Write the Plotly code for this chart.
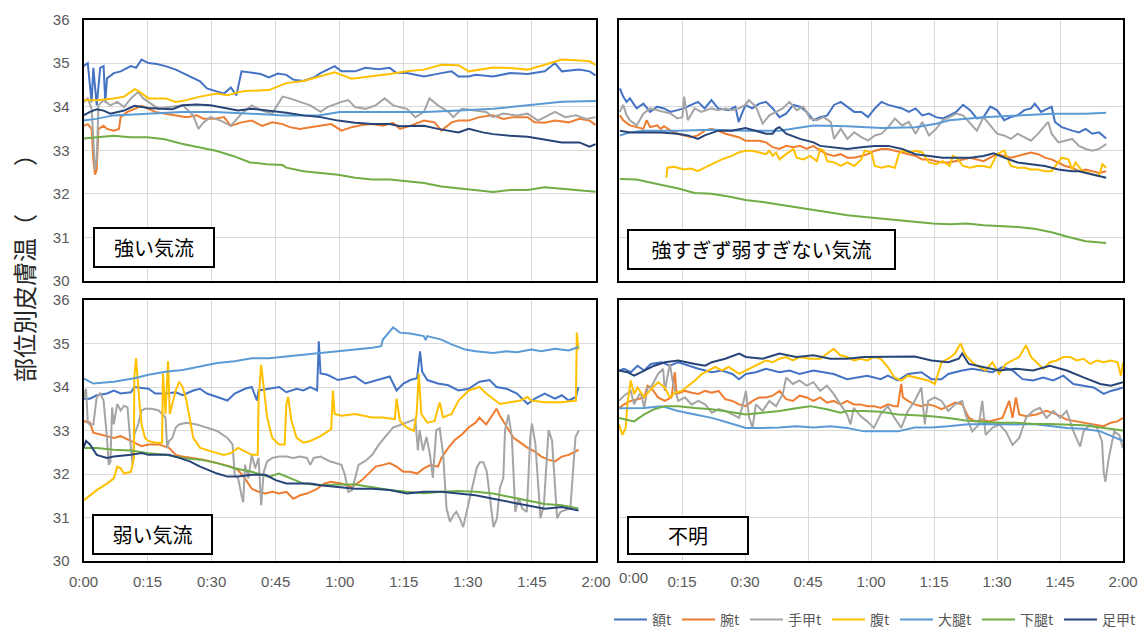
import plotly.graph_objects as go

# ---------------- data ----------------
SERIES_NAMES = ["額t", "腕t", "手甲t", "腹t", "大腿t", "下腿t", "足甲t"]
SERIES_COLORS = ["#4472C4", "#ED7D31", "#A5A5A5", "#FFC000", "#5B9BD5", "#70AD47", "#264478"]
X_TICK_MIN = [0, 15, 30, 45, 60, 75, 90, 105, 120]
X_TICK_TEXT = ["0:00", "0:15", "0:30", "0:45", "1:00", "1:15", "1:30", "1:45", "2:00"]
Y_TICKS = [30, 31, 32, 33, 34, 35, 36]
PANEL_LABELS = ["強い気流", "強すぎず弱すぎない気流", "弱い気流", "不明"]
Y_TITLE = "部位別皮膚温（　　）"

# (minutes, °C) pairs
# ---- 強い気流 ----
TL_FOREHEAD = [(0, 34.93), (1.0, 35.00), (1.9, 34.10), (2.3, 34.89), (3.1, 34.03), (3.9, 34.89), (4.7, 34.93), (5.1, 34.10), (5.5, 34.65), (7.1, 34.77), (8.7, 34.81), (10.3, 34.89), (11.1, 34.93), (12.3, 34.89), (13.6, 35.08), (14.4, 35.04), (15.2, 35.00), (17.2, 34.98), (19.2, 34.93), (21.6, 34.85), (23.2, 34.77), (25.7, 34.65), (27.3, 34.58), (28.9, 34.42), (31.3, 34.34), (32.9, 34.30), (34.5, 34.44), (35.8, 34.26), (37.0, 34.81), (39.4, 34.77), (41.5, 34.75), (43.4, 34.67), (45.5, 34.76), (47.5, 34.73), (49.1, 34.62), (51.5, 34.59), (53.9, 34.67), (55.5, 34.77), (58.8, 34.93), (60.4, 34.81), (63.6, 34.81), (66.0, 34.89), (69.0, 34.86), (71.7, 34.89), (73.3, 34.77), (75.7, 34.77), (77.5, 34.74), (79.7, 34.69), (83.8, 34.77), (86.2, 34.81), (87.8, 34.69), (90.2, 34.69), (91.8, 34.73), (95.9, 34.69), (99.9, 34.77), (104.0, 34.75), (108.0, 34.81), (110.4, 35.00), (112.0, 34.81), (116.1, 34.85), (118.5, 34.81), (119.9, 34.72)]
TL_ARM = [(0, 33.56), (1.0, 33.60), (1.9, 33.49), (2.3, 32.79), (2.7, 32.44), (3.1, 32.55), (3.5, 33.49), (4.7, 33.56), (5.5, 33.49), (7.1, 33.45), (8.3, 33.49), (8.7, 33.76), (10.3, 33.88), (11.9, 33.95), (13.6, 34.02), (15.2, 33.95), (16.8, 33.88), (19.2, 33.84), (21.6, 33.80), (24.1, 33.76), (26.5, 33.80), (28.1, 33.72), (30.5, 33.72), (32.9, 33.76), (34.5, 33.56), (37.0, 33.64), (39.4, 33.68), (41.8, 33.56), (44.2, 33.64), (46.6, 33.60), (48.3, 33.53), (50.7, 33.49), (53.1, 33.53), (55.5, 33.56), (58.0, 33.60), (60.4, 33.45), (62.8, 33.53), (65.2, 33.58), (67.6, 33.60), (70.1, 33.56), (72.5, 33.63), (74.1, 33.49), (76.5, 33.56), (79.7, 33.68), (82.2, 33.64), (83.8, 33.45), (86.2, 33.64), (87.8, 33.68), (90.2, 33.68), (92.7, 33.76), (95.9, 33.80), (98.3, 33.72), (100.7, 33.76), (104.0, 33.76), (105.6, 33.64), (108.0, 33.63), (110.4, 33.68), (113.6, 33.64), (116.1, 33.72), (118.5, 33.68), (119.9, 33.58)]
TL_HAND = [(0, 34.11), (1.0, 34.19), (1.9, 33.95), (2.3, 33.10), (2.7, 32.55), (3.1, 32.79), (3.5, 34.03), (4.7, 34.15), (6.3, 34.03), (7.9, 34.11), (9.5, 33.99), (11.1, 34.19), (12.8, 34.34), (14.0, 34.19), (15.2, 34.11), (17.6, 33.95), (20.0, 33.99), (23.2, 34.03), (25.7, 33.80), (26.9, 33.49), (28.1, 33.64), (29.7, 33.76), (32.1, 33.68), (34.5, 33.56), (37.0, 33.84), (39.4, 34.03), (41.8, 33.91), (44.2, 33.84), (46.6, 34.23), (48.3, 34.19), (50.7, 34.11), (53.1, 34.03), (55.5, 33.88), (57.1, 33.99), (60.4, 34.11), (62.0, 34.15), (63.6, 33.99), (66.0, 33.95), (68.4, 34.03), (70.5, 34.19), (72.5, 34.03), (75.7, 33.95), (77.7, 33.76), (79.7, 33.88), (81.0, 34.19), (83.0, 34.03), (85.4, 33.88), (86.6, 33.76), (88.6, 33.95), (91.8, 33.91), (94.3, 33.88), (95.9, 33.76), (98.3, 33.84), (101.5, 33.80), (104.0, 33.84), (106.4, 33.68), (108.8, 33.80), (110.4, 33.88), (112.8, 33.76), (115.3, 33.80), (117.7, 33.72), (119.9, 33.76)]
TL_BELLY = [(0, 34.15), (3.1, 34.15), (7.1, 34.19), (9.5, 34.23), (11.1, 34.34), (12.0, 34.40), (13.2, 34.34), (15.2, 34.19), (19.2, 34.19), (21.6, 34.11), (24.1, 34.15), (27.3, 34.23), (31.3, 34.30), (33.7, 34.26), (36.2, 34.33), (37.8, 34.36), (43.4, 34.38), (47.5, 34.54), (51.5, 34.59), (55.5, 34.69), (58.8, 34.79), (62.8, 34.64), (67.6, 34.69), (71.7, 34.75), (75.7, 34.81), (79.7, 34.85), (83.8, 34.96), (87.8, 34.95), (90.2, 34.81), (92.7, 34.85), (95.9, 34.90), (99.9, 34.89), (104.0, 34.85), (108.0, 34.96), (112.0, 35.08), (116.1, 35.06), (118.5, 35.04), (119.9, 34.96)]
TL_THIGH = [(0, 33.68), (3, 33.72), (7, 33.80), (15, 33.84), (23, 33.88), (31, 33.88), (39, 33.84), (47, 33.80), (55, 33.80), (60, 33.88), (72, 33.88), (80, 33.88), (88, 33.91), (96, 33.95), (104, 34.03), (112, 34.11), (120, 34.13)]
TL_SHIN = [(0, 33.27), (4, 33.30), (7, 33.33), (11, 33.30), (15, 33.30), (19, 33.25), (23, 33.15), (27, 33.07), (31, 32.99), (35, 32.87), (39, 32.72), (43, 32.68), (46.6, 32.66), (47.5, 32.60), (51.5, 32.52), (55.5, 32.48), (59.6, 32.44), (63.6, 32.37), (67.6, 32.33), (71.7, 32.33), (75.7, 32.29), (79.7, 32.25), (83.8, 32.17), (87.8, 32.13), (91.8, 32.09), (95.9, 32.04), (99.9, 32.09), (104.0, 32.09), (108.0, 32.15), (112.0, 32.12), (116.1, 32.09), (119.9, 32.05)]
TL_FOOT = [(0, 33.80), (1.5, 33.88), (3.1, 33.94), (4.7, 33.91), (6.3, 33.84), (7.9, 33.88), (9.5, 33.91), (11.9, 34.02), (15.2, 33.97), (18.4, 33.95), (20.8, 33.94), (23.2, 34.03), (26.5, 34.05), (29.7, 34.03), (32.9, 33.97), (36.2, 33.91), (39.4, 33.95), (43.4, 33.91), (47.5, 33.86), (51.5, 33.80), (55.5, 33.76), (59.6, 33.68), (63.6, 33.63), (67.6, 33.60), (71.7, 33.60), (74.1, 33.55), (77.3, 33.56), (79.7, 33.56), (83.0, 33.49), (85.4, 33.45), (87.8, 33.41), (90.2, 33.49), (93.5, 33.41), (95.9, 33.37), (99.9, 33.33), (104.0, 33.31), (108.0, 33.25), (112.0, 33.18), (116.1, 33.18), (118.5, 33.08), (119.9, 33.14)]

# ---- 強すぎず弱すぎない気流 ----
TR_FOREHEAD = [(0.2, 34.42), (1.0, 34.23), (1.8, 34.11), (2.6, 34.19), (4.2, 33.96), (5.8, 34.07), (7.4, 33.88), (9.1, 34.00), (10.7, 33.96), (12.3, 33.88), (13.9, 33.92), (15.5, 33.96), (17.2, 34.04), (18.8, 34.11), (20.4, 33.96), (22.0, 34.15), (23.6, 33.96), (26.1, 33.92), (27.7, 34.00), (28.5, 33.65), (30.1, 34.04), (31.7, 33.96), (33.4, 34.07), (35.0, 34.11), (36.6, 33.96), (38.2, 33.76), (39.8, 33.84), (41.5, 34.04), (43.1, 34.00), (44.7, 33.88), (46.3, 33.69), (47.9, 33.76), (49.6, 33.80), (51.2, 34.04), (52.8, 34.11), (54.4, 34.00), (56.0, 33.88), (57.7, 33.88), (59.3, 33.76), (60.9, 33.96), (62.5, 34.11), (64.1, 34.04), (65.7, 34.00), (67.4, 33.96), (69.0, 33.88), (70.6, 33.96), (72.2, 33.80), (73.8, 33.84), (75.5, 33.76), (77.1, 33.73), (78.7, 33.80), (80.3, 33.88), (81.9, 34.04), (83.6, 33.92), (85.2, 33.73), (86.8, 33.76), (88.4, 34.00), (90.0, 33.92), (91.7, 33.69), (93.3, 33.76), (94.9, 33.80), (96.5, 33.92), (98.1, 33.96), (99.0, 34.07), (100.5, 33.88), (102.2, 33.96), (103.0, 34.00), (103.8, 33.65), (105.4, 33.53), (107.9, 33.45), (109.5, 33.41), (111.1, 33.49), (112.7, 33.38), (114.3, 33.41), (116.0, 33.27)]
TR_ARM = [(0.2, 33.80), (1.0, 33.69), (2.6, 33.57), (4.2, 33.53), (5.8, 33.49), (6.6, 33.69), (7.4, 33.53), (9.1, 33.57), (9.9, 33.49), (10.7, 33.55), (12.3, 33.45), (13.9, 33.38), (15.5, 33.34), (17.2, 33.30), (18.8, 33.34), (20.4, 33.45), (22.0, 33.49), (23.6, 33.45), (25.3, 33.38), (26.9, 33.34), (28.5, 33.30), (30.1, 33.22), (31.7, 33.22), (33.4, 33.22), (35.0, 33.18), (36.6, 33.07), (38.2, 33.03), (39.8, 33.10), (41.5, 33.07), (43.1, 33.10), (44.7, 33.03), (46.3, 33.10), (47.9, 32.99), (49.6, 32.91), (51.2, 32.87), (52.8, 32.91), (54.4, 32.83), (56.0, 32.83), (57.7, 32.87), (59.3, 32.91), (60.9, 32.99), (62.5, 33.03), (64.1, 33.03), (65.7, 32.99), (67.4, 32.95), (69.0, 32.91), (70.6, 32.87), (72.2, 32.79), (73.8, 32.79), (75.5, 32.75), (77.1, 32.72), (78.7, 32.72), (80.3, 32.75), (81.9, 32.79), (83.6, 32.83), (85.2, 32.79), (86.8, 32.75), (88.4, 32.83), (90.0, 32.91), (91.7, 32.87), (93.3, 32.83), (94.9, 32.87), (96.5, 32.91), (98.1, 32.95), (99.8, 32.91), (101.4, 32.83), (103.0, 32.79), (104.6, 32.72), (106.2, 32.64), (107.9, 32.60), (109.5, 32.52), (111.1, 32.56), (112.7, 32.52), (114.3, 32.48), (116.0, 32.52)]
TR_HAND = [(0.2, 33.88), (1.0, 34.04), (1.8, 33.80), (2.6, 33.69), (4.2, 33.57), (5.8, 33.84), (7.4, 33.96), (9.1, 33.92), (10.7, 33.88), (12.3, 33.84), (13.9, 33.73), (15.1, 33.76), (15.5, 34.23), (16.4, 33.69), (18.0, 33.96), (19.6, 33.88), (22.0, 33.96), (23.6, 33.92), (25.3, 33.96), (26.9, 33.92), (28.5, 33.96), (30.1, 34.04), (30.9, 34.15), (32.6, 34.00), (34.2, 33.61), (35.8, 33.80), (37.4, 33.88), (39.0, 33.96), (40.6, 34.11), (42.3, 33.92), (43.9, 34.00), (45.5, 33.73), (47.1, 33.69), (48.7, 33.76), (50.4, 33.65), (51.2, 33.26), (52.8, 33.49), (54.4, 33.26), (56.0, 33.41), (57.7, 33.30), (59.3, 33.22), (60.9, 33.34), (62.5, 33.38), (64.1, 33.53), (65.7, 33.73), (67.4, 33.57), (69.0, 33.65), (70.6, 33.38), (72.2, 33.65), (73.8, 33.34), (75.5, 33.49), (77.1, 33.69), (78.7, 33.76), (80.3, 33.84), (81.9, 33.80), (83.6, 33.61), (85.2, 33.45), (86.8, 33.76), (88.4, 33.57), (90.0, 33.38), (91.7, 33.34), (93.3, 33.26), (94.9, 33.38), (96.5, 33.30), (98.1, 33.22), (99.8, 33.38), (101.4, 33.57), (102.2, 33.65), (103.0, 33.38), (104.6, 33.18), (106.2, 33.22), (107.9, 33.26), (109.5, 33.10), (111.1, 33.03), (112.7, 32.99), (114.3, 33.03), (116.0, 33.14)]
TR_BELLY = [(11.3, 32.37), (11.5, 32.60), (13.1, 32.62), (15.5, 32.56), (17.2, 32.58), (18.8, 32.52), (20.4, 32.60), (22.0, 32.68), (24.5, 32.79), (26.9, 32.87), (28.5, 32.95), (30.1, 32.99), (31.7, 32.99), (33.4, 32.95), (35.0, 32.91), (35.8, 32.99), (36.6, 32.87), (37.4, 32.95), (38.2, 32.79), (39.8, 32.91), (41.5, 33.03), (42.3, 32.83), (43.9, 32.79), (45.5, 32.87), (47.1, 32.75), (47.9, 33.03), (48.7, 32.99), (49.6, 32.75), (51.2, 32.72), (52.8, 32.64), (54.4, 32.72), (56.0, 32.64), (57.7, 32.79), (58.5, 32.99), (60.1, 32.95), (60.9, 32.64), (62.5, 32.60), (64.1, 32.64), (65.7, 32.60), (66.6, 32.91), (67.4, 32.99), (69.0, 32.95), (70.6, 32.99), (72.2, 32.95), (73.8, 32.72), (75.5, 32.68), (77.1, 32.75), (78.7, 32.64), (79.5, 32.87), (80.3, 32.83), (81.9, 32.64), (83.6, 32.60), (85.2, 32.64), (86.8, 32.64), (88.4, 32.60), (90.0, 32.91), (91.7, 32.99), (93.3, 32.64), (94.9, 32.60), (96.5, 32.60), (98.1, 32.56), (99.8, 32.56), (101.4, 32.52), (103.0, 32.52), (104.6, 32.72), (105.4, 32.83), (107.0, 32.79), (107.9, 32.56), (108.7, 32.72), (110.3, 32.52), (111.9, 32.48), (112.7, 32.44), (114.3, 32.41), (115.1, 32.68), (116.0, 32.60)]
TR_THIGH = [(0.2, 33.34), (2.6, 33.41), (5.8, 33.45), (13.9, 33.45), (22.0, 33.47), (30.1, 33.45), (38.2, 33.45), (46.3, 33.57), (54.4, 33.55), (62.5, 33.51), (70.6, 33.53), (75.5, 33.61), (78.7, 33.69), (86.8, 33.76), (94.9, 33.80), (103.0, 33.84), (111.1, 33.84), (116.0, 33.86)]
TR_SHIN = [(0.2, 32.34), (4.2, 32.33), (9.9, 32.21), (13.9, 32.13), (18.0, 32.02), (22.0, 32.00), (26.1, 31.94), (30.1, 31.86), (34.2, 31.81), (38.2, 31.75), (42.3, 31.69), (46.3, 31.63), (50.4, 31.57), (54.4, 31.51), (58.5, 31.47), (62.5, 31.43), (66.6, 31.40), (70.6, 31.36), (74.7, 31.32), (78.7, 31.30), (82.8, 31.32), (86.8, 31.28), (90.9, 31.26), (94.9, 31.24), (98.9, 31.20), (103.0, 31.12), (107.0, 31.01), (111.1, 30.91), (116.0, 30.87)]
TR_FOOT = [(0.2, 33.45), (2.6, 33.41), (5.8, 33.41), (9.9, 33.41), (13.9, 33.38), (16.4, 33.34), (18.8, 33.26), (20.4, 33.34), (23.6, 33.45), (26.9, 33.45), (30.1, 33.51), (32.6, 33.45), (35.0, 33.38), (36.6, 33.38), (37.4, 33.49), (38.2, 33.53), (39.8, 33.38), (43.1, 33.26), (46.3, 33.18), (47.9, 33.10), (51.2, 33.07), (54.4, 33.03), (57.7, 33.07), (60.9, 33.10), (64.1, 33.10), (67.4, 33.03), (70.6, 32.91), (73.8, 32.87), (77.1, 32.83), (80.3, 32.83), (83.6, 32.83), (86.8, 32.87), (89.2, 32.93), (91.7, 32.83), (94.9, 32.72), (98.1, 32.68), (101.4, 32.64), (104.6, 32.56), (107.9, 32.52), (109.5, 32.52), (112.7, 32.44), (116.0, 32.37)]

# ---- 弱い気流 ----
BL_FOREHEAD = [(0, 33.73), (1.5, 33.73), (3.1, 33.81), (5.5, 33.85), (7.1, 33.92), (8.7, 33.85), (11.1, 33.88), (11.9, 34.00), (15.2, 33.96), (16.8, 33.85), (19.2, 33.85), (21.6, 33.88), (23.2, 33.81), (25.7, 33.92), (27.3, 33.96), (28.9, 33.85), (31.3, 33.77), (33.7, 33.69), (35.4, 33.85), (37.8, 33.96), (39.4, 34.00), (40.6, 33.69), (41.0, 33.92), (43.4, 33.96), (45.8, 34.00), (47.5, 33.88), (49.9, 33.96), (51.5, 33.92), (53.1, 34.00), (54.7, 33.92), (55.1, 35.05), (55.5, 34.31), (57.1, 34.28), (59.6, 34.16), (62.0, 34.20), (63.6, 34.24), (66.0, 34.08), (67.6, 34.12), (69.2, 34.16), (71.7, 34.24), (73.3, 33.92), (74.9, 34.08), (76.5, 34.16), (78.1, 34.20), (78.8, 34.82), (79.3, 34.35), (80.5, 34.16), (83.0, 34.08), (85.4, 34.04), (87.8, 33.92), (90.2, 33.96), (92.7, 34.12), (95.1, 34.16), (96.7, 34.00), (99.1, 33.96), (101.5, 33.85), (104.0, 33.61), (105.6, 33.73), (108.0, 33.85), (110.4, 33.73), (112.0, 33.81), (113.6, 33.69), (115.3, 33.77), (115.9, 34.00)]
BL_ARM = [(0, 33.22), (1.5, 33.18), (2.3, 32.95), (3.9, 32.91), (5.5, 32.87), (7.1, 32.83), (8.7, 32.87), (10.3, 32.79), (11.9, 32.72), (13.6, 32.64), (15.2, 32.68), (17.6, 32.68), (20.0, 32.60), (21.6, 32.44), (23.2, 32.40), (25.7, 32.37), (28.1, 32.33), (31.3, 32.25), (32.9, 32.21), (34.5, 32.17), (36.2, 32.09), (37.8, 31.90), (39.4, 31.66), (41.0, 31.59), (42.6, 31.55), (44.2, 31.59), (45.8, 31.55), (47.5, 31.59), (49.1, 31.43), (50.7, 31.51), (52.3, 31.55), (54.7, 31.66), (56.3, 31.78), (57.9, 31.82), (60.4, 31.78), (62.8, 31.70), (65.2, 31.86), (66.8, 32.01), (68.4, 32.17), (70.1, 32.21), (71.7, 32.25), (73.3, 32.17), (74.9, 32.05), (76.5, 32.05), (78.1, 32.01), (79.7, 32.13), (81.3, 32.21), (83.0, 32.17), (83.8, 32.37), (85.4, 32.60), (87.0, 32.79), (88.6, 32.91), (90.2, 33.07), (91.8, 33.18), (92.7, 33.30), (94.3, 33.14), (95.9, 33.38), (96.7, 33.50), (97.5, 33.34), (99.1, 33.07), (100.7, 32.83), (102.3, 32.72), (104.0, 32.60), (105.6, 32.52), (107.2, 32.40), (108.8, 32.33), (110.4, 32.29), (112.0, 32.40), (113.6, 32.44), (115.3, 32.52), (115.9, 32.56)]
BL_HAND = [(0, 33.92), (0.2, 33.77), (0.6, 33.96), (1.0, 33.18), (1.5, 33.14), (2.3, 33.14), (3.1, 33.77), (3.9, 33.85), (4.7, 33.69), (5.5, 32.83), (5.9, 32.21), (6.3, 32.29), (6.7, 33.53), (7.1, 33.14), (7.9, 33.61), (8.7, 33.46), (9.5, 33.57), (10.3, 33.53), (11.1, 32.60), (11.5, 32.21), (11.9, 32.91), (12.8, 33.14), (13.6, 33.46), (14.4, 33.50), (16.0, 33.50), (17.6, 33.46), (18.4, 33.38), (19.2, 33.30), (19.6, 32.60), (20.0, 32.76), (20.8, 32.83), (21.6, 33.07), (22.4, 33.14), (24.1, 33.18), (26.5, 33.14), (28.9, 33.07), (31.3, 32.99), (33.7, 32.83), (34.9, 32.68), (35.4, 31.98), (36.2, 31.90), (37.0, 31.51), (37.4, 31.35), (37.8, 32.21), (38.6, 31.90), (39.4, 32.44), (40.2, 32.13), (41.0, 32.37), (41.6, 31.28), (42.2, 32.05), (43.0, 32.29), (44.2, 32.37), (45.8, 32.40), (47.5, 32.40), (49.1, 32.37), (50.7, 32.40), (52.3, 32.37), (53.1, 32.21), (53.9, 32.37), (55.5, 32.40), (57.5, 32.30), (60.4, 32.21), (61.2, 31.98), (62.0, 31.59), (62.8, 31.62), (63.6, 31.90), (64.4, 32.21), (66.0, 32.30), (67.6, 32.44), (69.2, 32.68), (71.0, 32.90), (72.5, 33.07), (74.0, 33.12), (76.3, 33.20), (77.7, 33.26), (78.3, 32.54), (78.7, 33.01), (79.5, 32.54), (80.3, 32.85), (81.1, 32.46), (81.8, 31.91), (82.6, 33.01), (83.4, 33.05), (84.2, 32.46), (85.0, 31.21), (85.8, 30.90), (86.6, 31.05), (87.3, 31.13), (88.1, 30.98), (88.9, 30.78), (89.7, 31.13), (90.5, 31.45), (92.1, 32.15), (92.8, 32.27), (93.6, 32.27), (94.4, 32.07), (95.2, 31.45), (96.0, 30.78), (96.8, 30.98), (97.5, 31.68), (98.3, 31.91), (98.7, 33.01), (99.5, 33.36), (100.3, 32.85), (101.1, 31.13), (101.9, 31.45), (102.7, 31.21), (103.8, 31.13), (104.6, 32.85), (105.0, 33.16), (105.8, 32.70), (107.0, 30.98), (107.8, 31.29), (108.9, 33.01), (109.7, 32.77), (110.9, 30.98), (111.7, 31.13), (114.0, 31.21), (115.2, 32.85), (116.0, 33.01)]
BL_BELLY = [(0, 31.39), (1.5, 31.51), (3.1, 31.63), (5.5, 31.78), (7.1, 31.90), (7.9, 32.17), (8.7, 32.13), (9.5, 32.01), (11.1, 32.05), (11.8, 32.37), (11.9, 34.24), (12.3, 34.66), (12.8, 33.92), (13.2, 33.53), (13.6, 33.14), (14.4, 32.83), (15.2, 32.76), (16.8, 32.72), (18.4, 32.72), (18.6, 34.31), (19.2, 33.38), (19.8, 34.59), (20.2, 33.38), (20.8, 33.61), (21.6, 33.92), (22.4, 34.12), (23.2, 34.00), (24.1, 33.69), (24.9, 33.22), (25.7, 32.83), (27.3, 32.60), (29.7, 32.52), (31.3, 32.48), (32.9, 32.44), (34.5, 32.48), (36.2, 32.60), (37.8, 32.52), (39.4, 32.44), (40.8, 32.44), (41.0, 33.69), (41.6, 34.51), (42.2, 33.92), (43.0, 33.30), (44.2, 32.83), (45.8, 32.68), (47.1, 32.68), (47.5, 33.61), (47.9, 33.77), (48.7, 33.22), (49.9, 32.83), (51.5, 32.72), (53.1, 32.76), (55.5, 32.87), (58.0, 33.03), (58.4, 33.92), (58.8, 33.38), (60.4, 33.34), (63.6, 33.38), (67.6, 33.30), (70.1, 33.30), (72.9, 33.26), (73.3, 33.73), (74.1, 33.22), (75.7, 33.07), (77.3, 32.99), (78.0, 33.38), (78.5, 34.31), (79.1, 33.38), (80.5, 33.18), (82.2, 33.22), (83.4, 33.65), (84.2, 33.30), (86.2, 33.38), (87.8, 33.69), (90.2, 33.92), (92.7, 34.00), (94.3, 33.85), (95.9, 33.73), (97.5, 33.61), (99.9, 33.65), (102.3, 33.69), (104.0, 33.77), (104.8, 33.69), (108.0, 33.65), (112.0, 33.65), (115.3, 33.69), (115.5, 35.25), (115.9, 34.86)]
BL_THIGH = [(0, 34.20), (2.3, 34.08), (7.1, 34.12), (11.9, 34.20), (15.2, 34.28), (19.2, 34.35), (23.2, 34.39), (27.3, 34.47), (31.3, 34.55), (35.4, 34.59), (39.4, 34.66), (43.4, 34.66), (47.5, 34.70), (51.5, 34.74), (55.5, 34.78), (59.6, 34.82), (63.6, 34.86), (67.6, 34.90), (69.7, 34.94), (70.1, 35.09), (72.5, 35.37), (74.1, 35.25), (76.5, 35.23), (79.7, 35.17), (80.1, 35.08), (80.5, 35.17), (83.8, 35.09), (86.2, 34.98), (89.4, 34.86), (91.8, 34.82), (95.9, 34.78), (99.1, 34.82), (101.5, 34.80), (104.8, 34.86), (107.2, 34.82), (110.4, 34.88), (113.6, 34.84), (115.3, 34.90), (115.9, 34.92)]
BL_SHIN = [(0, 32.60), (3.1, 32.60), (7.1, 32.56), (11.1, 32.54), (15.2, 32.48), (19.2, 32.44), (23.2, 32.37), (27.3, 32.33), (31.3, 32.25), (35.4, 32.13), (39.4, 32.05), (43.4, 31.94), (45.8, 32.01), (47.5, 31.94), (51.5, 31.78), (55.5, 31.74), (59.6, 31.76), (63.6, 31.76), (67.6, 31.70), (71.7, 31.63), (75.7, 31.59), (79.7, 31.56), (83.8, 31.59), (87.8, 31.61), (91.8, 31.59), (95.9, 31.55), (99.9, 31.47), (104.0, 31.39), (108.0, 31.31), (112.0, 31.28), (115.9, 31.21)]
BL_FOOT = [(0, 32.60), (0.6, 32.76), (1.5, 32.68), (3.1, 32.44), (5.5, 32.37), (7.1, 32.40), (11.1, 32.44), (13.6, 32.48), (15.2, 32.44), (17.6, 32.44), (20.0, 32.44), (22.4, 32.37), (24.9, 32.29), (27.3, 32.17), (31.3, 32.01), (33.7, 31.94), (36.2, 31.94), (39.4, 31.98), (42.6, 31.98), (45.0, 31.86), (47.5, 31.78), (50.7, 31.78), (53.1, 31.78), (55.5, 31.74), (59.6, 31.70), (63.6, 31.66), (67.6, 31.66), (71.7, 31.63), (75.7, 31.55), (79.7, 31.59), (83.8, 31.59), (87.8, 31.55), (91.8, 31.51), (95.9, 31.43), (99.9, 31.35), (104.0, 31.28), (108.0, 31.20), (112.0, 31.24), (115.9, 31.16)]

# ---- 不明 ----
BR_FOREHEAD = [(0, 34.38), (1.2, 34.42), (2.8, 34.34), (4.4, 34.49), (6.0, 34.38), (7.6, 34.53), (10.1, 34.57), (12.1, 34.49), (14.1, 34.57), (16.5, 34.49), (18.9, 34.42), (22.1, 34.34), (24.5, 34.38), (27.0, 34.30), (28.6, 34.18), (30.2, 34.30), (32.6, 34.34), (35.0, 34.42), (38.2, 34.34), (40.6, 34.38), (43.0, 34.30), (46.3, 34.38), (48.7, 34.34), (51.1, 34.30), (54.3, 34.18), (56.7, 34.22), (59.1, 34.26), (62.3, 34.18), (64.0, 34.26), (66.4, 34.15), (68.8, 34.30), (72.0, 34.34), (74.4, 34.18), (76.8, 34.18), (78.4, 34.30), (81.7, 34.38), (84.1, 34.42), (86.5, 34.38), (88.9, 34.34), (91.3, 34.46), (93.7, 34.38), (96.1, 34.18), (98.6, 34.15), (101.0, 34.22), (103.4, 34.15), (105.8, 34.26), (108.2, 34.07), (110.6, 34.03), (113.0, 33.99), (115.4, 33.84), (117.1, 33.91), (118.7, 33.95), (120, 33.99)]
BR_ARM = [(0, 33.52), (1.2, 33.60), (2.8, 33.68), (4.4, 33.72), (6.0, 33.76), (6.8, 34.03), (7.6, 33.99), (9.3, 33.76), (10.9, 33.68), (12.5, 33.76), (13.3, 34.34), (13.7, 33.84), (15.7, 33.91), (17.3, 33.87), (18.9, 33.84), (20.5, 33.91), (22.1, 33.87), (23.7, 33.91), (25.3, 33.72), (27.0, 33.68), (28.6, 33.60), (30.2, 33.56), (31.8, 33.68), (33.4, 33.76), (35.0, 33.76), (36.6, 33.80), (38.2, 33.91), (39.8, 33.72), (41.4, 33.68), (43.0, 33.80), (44.7, 33.76), (46.3, 33.68), (47.9, 33.76), (49.5, 33.64), (51.1, 33.68), (52.7, 33.60), (54.3, 33.68), (55.9, 33.60), (57.5, 33.60), (59.1, 33.56), (60.7, 33.56), (62.3, 33.52), (64.0, 33.60), (65.6, 33.56), (66.4, 33.56), (67.2, 34.07), (67.6, 33.76), (68.8, 33.68), (70.4, 33.60), (72.0, 33.56), (73.6, 33.60), (75.2, 33.56), (76.8, 33.49), (78.4, 33.56), (80.0, 33.64), (81.7, 33.60), (82.5, 33.45), (83.3, 33.29), (84.9, 33.21), (86.5, 33.25), (88.1, 33.21), (89.7, 33.25), (91.3, 33.29), (92.9, 33.68), (93.7, 33.29), (94.5, 33.76), (95.3, 33.37), (96.9, 33.33), (99.4, 33.37), (101.8, 33.45), (104.2, 33.37), (106.6, 33.25), (109.0, 33.21), (110.6, 33.18), (113.0, 33.14), (115.4, 33.10), (117.1, 33.18), (118.7, 33.21), (120, 33.29)]
BR_HAND = [(0, 33.68), (1.2, 33.80), (2.8, 33.91), (3.6, 33.60), (4.4, 33.76), (5.2, 33.87), (6.0, 33.52), (6.8, 33.99), (7.6, 33.99), (9.3, 34.30), (10.5, 34.42), (10.9, 33.91), (12.1, 34.53), (12.9, 34.07), (14.1, 33.68), (15.7, 33.76), (17.3, 33.60), (18.9, 33.68), (20.5, 33.60), (22.1, 33.41), (23.7, 33.49), (25.3, 33.45), (27.0, 33.37), (28.6, 33.29), (29.4, 33.56), (30.2, 33.91), (31.0, 33.29), (31.8, 33.06), (32.6, 33.60), (34.2, 33.45), (35.8, 33.68), (37.4, 33.56), (39.0, 33.84), (39.8, 34.22), (41.4, 34.07), (43.0, 34.15), (44.7, 34.03), (46.3, 34.11), (47.9, 33.91), (49.5, 34.03), (51.1, 33.84), (52.7, 33.60), (54.3, 33.37), (55.1, 33.14), (55.9, 33.52), (57.5, 33.33), (59.1, 33.21), (60.7, 33.06), (62.3, 33.37), (64.0, 33.56), (65.6, 33.29), (67.2, 33.06), (68.8, 33.45), (70.4, 33.68), (72.0, 33.99), (72.8, 33.14), (73.6, 33.68), (75.2, 33.76), (76.8, 33.68), (78.4, 33.45), (80.0, 33.60), (81.7, 33.68), (82.5, 33.37), (84.1, 32.98), (85.7, 33.14), (86.5, 33.68), (87.3, 32.90), (88.9, 33.06), (90.5, 33.14), (92.1, 32.98), (93.7, 32.67), (95.3, 32.83), (96.9, 33.29), (98.6, 33.45), (100.2, 33.52), (101.8, 33.29), (103.4, 33.45), (105.0, 33.29), (106.6, 33.45), (108.2, 32.98), (109.8, 32.63), (110.6, 32.98), (112.2, 33.14), (113.8, 33.06), (115.0, 32.75), (115.4, 32.05), (115.8, 31.82), (116.6, 32.36), (117.9, 32.98), (119.1, 32.90), (120, 32.59)]
BR_BELLY = [(0, 33.14), (0.8, 32.90), (1.6, 33.06), (2.0, 33.60), (2.8, 34.15), (3.6, 33.84), (4.4, 33.99), (6.0, 33.76), (7.6, 33.95), (9.3, 34.11), (10.9, 33.99), (12.1, 33.76), (13.3, 33.87), (14.9, 33.91), (16.5, 34.03), (18.1, 34.15), (19.7, 34.30), (21.3, 34.38), (22.9, 34.46), (24.5, 34.38), (26.1, 34.46), (28.6, 34.30), (30.2, 34.38), (32.6, 34.49), (35.0, 34.61), (36.6, 34.57), (38.2, 34.65), (39.8, 34.69), (41.4, 34.61), (43.0, 34.69), (45.5, 34.65), (47.9, 34.65), (49.5, 34.77), (51.1, 34.88), (52.7, 34.73), (54.3, 34.69), (55.9, 34.61), (57.5, 34.65), (59.1, 34.61), (60.7, 34.69), (62.3, 34.65), (64.0, 34.46), (65.6, 34.22), (67.2, 34.15), (68.8, 34.26), (70.4, 34.22), (72.0, 34.18), (73.6, 34.15), (75.2, 34.07), (76.8, 34.57), (78.4, 34.65), (80.0, 34.77), (81.3, 35.00), (82.5, 34.73), (84.1, 34.57), (85.7, 34.46), (87.3, 34.38), (88.9, 34.57), (90.5, 34.30), (92.1, 34.53), (93.7, 34.61), (95.3, 34.69), (96.9, 34.96), (98.1, 34.69), (99.4, 34.57), (101.0, 34.42), (102.6, 34.57), (104.2, 34.61), (105.8, 34.69), (107.4, 34.69), (109.0, 34.61), (110.6, 34.65), (112.2, 34.53), (113.8, 34.61), (115.4, 34.57), (117.1, 34.61), (118.7, 34.57), (119.5, 34.26), (120, 34.57)]
BR_THIGH = [(0, 33.51), (2.8, 33.51), (6.0, 33.52), (10.1, 33.56), (14.1, 33.45), (18.1, 33.37), (22.1, 33.29), (26.1, 33.18), (30.2, 33.06), (34.2, 33.06), (38.2, 33.07), (42.2, 33.10), (46.3, 33.07), (50.3, 33.10), (54.3, 33.06), (58.3, 32.98), (62.3, 32.98), (66.4, 32.98), (70.4, 33.07), (74.4, 33.07), (78.4, 33.10), (82.5, 33.14), (86.5, 33.15), (90.5, 33.14), (94.5, 33.14), (98.6, 33.15), (102.6, 33.10), (106.6, 33.06), (110.6, 33.04), (114.6, 32.98), (120, 32.76)]
BR_SHIN = [(0, 33.29), (2.0, 33.25), (3.6, 33.21), (6.0, 33.37), (8.4, 33.49), (10.9, 33.56), (14.1, 33.56), (18.1, 33.52), (22.1, 33.49), (26.1, 33.43), (30.2, 33.37), (34.2, 33.41), (38.2, 33.45), (42.2, 33.51), (45.5, 33.56), (49.5, 33.49), (52.7, 33.41), (54.3, 33.45), (58.3, 33.45), (62.3, 33.43), (66.4, 33.37), (70.4, 33.35), (74.4, 33.33), (78.4, 33.29), (82.5, 33.23), (86.5, 33.20), (90.5, 33.18), (94.5, 33.18), (98.6, 33.15), (102.6, 33.15), (106.6, 33.14), (110.6, 33.12), (114.6, 33.07), (120, 33.00)]
BR_FOOT = [(0, 34.38), (2.0, 34.34), (3.6, 34.26), (6.0, 34.38), (8.4, 34.49), (10.9, 34.57), (14.1, 34.61), (18.1, 34.53), (20.5, 34.49), (22.1, 34.57), (25.3, 34.65), (28.6, 34.77), (30.2, 34.69), (34.2, 34.65), (38.2, 34.77), (42.2, 34.69), (46.3, 34.73), (50.3, 34.65), (54.3, 34.65), (58.3, 34.69), (62.3, 34.69), (66.4, 34.69), (70.4, 34.70), (74.4, 34.61), (78.4, 34.57), (80.9, 34.65), (81.7, 34.77), (83.3, 34.53), (86.5, 34.46), (90.5, 34.38), (94.5, 34.42), (98.6, 34.38), (102.6, 34.49), (106.6, 34.38), (110.6, 34.22), (114.6, 34.07), (117.1, 34.03), (120, 34.11)]

PANELS = [
    [TL_FOREHEAD, TL_ARM, TL_HAND, TL_BELLY, TL_THIGH, TL_SHIN, TL_FOOT],
    [TR_FOREHEAD, TR_ARM, TR_HAND, TR_BELLY, TR_THIGH, TR_SHIN, TR_FOOT],
    [BL_FOREHEAD, BL_ARM, BL_HAND, BL_BELLY, BL_THIGH, BL_SHIN, BL_FOOT],
    [BR_FOREHEAD, BR_ARM, BR_HAND, BR_BELLY, BR_THIGH, BR_SHIN, BR_FOOT],
]

# ---------------- layout geometry (pixels in a 1144x629 page) ----------------
W, H = 1144, 629
COLS = [(83.5, 596), (619, 1123)]
ROWS = [(19.5, 281), (300, 561)]
BOXES = [  # (x0, x1, y0, y1) in px
    (93, 215, 227, 268),
    (627, 896, 229, 270),
    (92, 213, 514, 555),
    (627, 749, 516, 555),
]

FONT_NUM = "Liberation Sans, Arial, Noto Sans CJK JP, sans-serif"
FONT_JP = "Noto Sans CJK JP, sans-serif"

fig = go.Figure()

for p, series_list in enumerate(PANELS):
    ax = "" if p == 0 else str(p + 1)
    for s, pts in enumerate(series_list):
        fig.add_trace(go.Scatter(
            x=[a for a, b in pts], y=[b for a, b in pts],
            mode="lines", name=SERIES_NAMES[s],
            line=dict(color=SERIES_COLORS[s], width=2),
            xaxis="x" + ax, yaxis="y" + ax,
            showlegend=(p == 0), legendgroup=SERIES_NAMES[s],
            hoverinfo="skip",
        ))

layout = dict(
    width=W, height=H,
    margin=dict(l=0, r=0, t=0, b=0, autoexpand=False),
    paper_bgcolor="white", plot_bgcolor="white",
    showlegend=True,
    legend=dict(orientation="h", x=1141 / W, xanchor="right", y=1 - 620 / H, yanchor="middle",
                font=dict(family=FONT_JP, size=14, color="#595959"),
                bgcolor="rgba(0,0,0,0)", itemwidth=33, traceorder="normal"),
    annotations=[],
)

for p in range(4):
    r, c = divmod(p, 2)
    ax = "" if p == 0 else str(p + 1)
    x0, x1 = COLS[c]
    y0, y1 = ROWS[r]
    # the right-hand charts place their first time label slightly inside
    ttext = list(X_TICK_TEXT) if c == 0 else [""] + X_TICK_TEXT[1:]
    layout["xaxis" + ax] = dict(
        domain=[x0 / W, x1 / W], anchor="y" + ax, range=[0, 120],
        tickmode="array", tickvals=X_TICK_MIN, ticktext=ttext,
        showticklabels=(r == 1), ticks="", ticklabelstandoff=6,
        tickfont=dict(family=FONT_NUM, size=15, color="#595959"),
        showgrid=True, gridcolor="#d9d9d9", gridwidth=1, zeroline=False,
        showline=True, linecolor="black", linewidth=2, mirror=True,
        automargin=False, fixedrange=True,
    )
    layout["yaxis" + ax] = dict(
        domain=[1 - y1 / H, 1 - y0 / H], anchor="x" + ax, range=[30, 36],
        tickmode="array", tickvals=Y_TICKS, ticktext=[str(v) for v in Y_TICKS],
        showticklabels=(c == 0), ticks="", ticklabelstandoff=9,
        tickfont=dict(family=FONT_NUM, size=15, color="#595959"),
        showgrid=True, gridcolor="#d9d9d9", gridwidth=1, zeroline=False,
        showline=True, linecolor="black", linewidth=2, mirror=True,
        automargin=False, fixedrange=True,
    )
    bx0, bx1, by0, by1 = BOXES[p]
    layout["annotations"].append(dict(
        xref="paper", yref="paper",
        x=(bx0 + bx1) / 2 / W, y=1 - (by0 + by1) / 2 / H,
        xanchor="center", yanchor="middle",
        text=PANEL_LABELS[p], showarrow=False,
        font=dict(family=FONT_JP, size=20, color="black"),
        bgcolor="white", bordercolor="black", borderwidth=2, borderpad=0,
        width=bx1 - bx0 - 4, height=by1 - by0 - 4, align="center",
    ))

# first time label of the bottom-right chart
layout["annotations"].append(dict(
    xref="paper", yref="paper", x=633 / W, y=1 - 577 / H,
    xanchor="center", yanchor="middle", text=X_TICK_TEXT[0], showarrow=False,
    font=dict(family=FONT_NUM, size=15, color="#595959"),
))

layout["annotations"].append(dict(
    xref="paper", yref="paper", x=23 / W, y=1 - 262 / H,
    xanchor="center", yanchor="middle", textangle=-90,
    text=Y_TITLE, showarrow=False,
    font=dict(family=FONT_JP, size=24, color="#262626"),
))

fig.update_layout(**layout)
fig.write_html("out.html", config={"displayModeBar": False},
               post_script="document.body.style.margin='0px';")
